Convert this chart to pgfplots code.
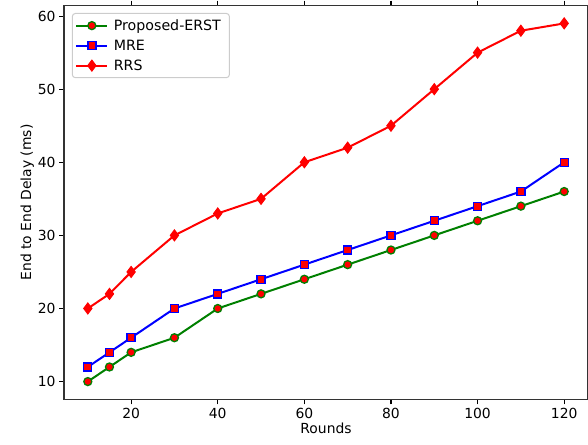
\documentclass[border=0pt]{standalone}
\usepackage{pgfplots}
\pgfplotsset{compat=1.18}
\usepackage{fontspec}
\setmainfont{DejaVu Sans}
\definecolor{mgreen}{RGB}{0,128,0}
\begin{document}
\begin{tikzpicture}[font=\fontsize{13.9}{16}\selectfont]
\useasboundingbox (-64pt,-44.5pt) rectangle (524pt,399.5pt);
\begin{axis}[
  at={(0,0)}, anchor=south west,
  scale only axis, width=524pt, height=394pt,
  xmin=4.5, xmax=125.5, ymin=7.55, ymax=61.45,
  xtick={20,40,...,120}, ytick={10,20,...,60},
  tick align=outside, major tick length=4.9pt,
  tick style={black, line width=1.1pt},
  axis line style={line width=1.1pt, black!80},
  /pgf/number format/assume math mode=true,
  xlabel={Rounds}, ylabel={End to End Delay (ms)},
  xlabel style={yshift=2pt},
  ylabel style={yshift=-3pt},
  legend cell align=left,
  legend style={at={(0.015,0.981)}, anchor=north west, draw=black!20, rounded corners=3pt, line width=1pt,
    font=\fontsize{14.2}{16}\selectfont, inner xsep=3pt, inner ysep=4pt, row sep=4pt,
    nodes={inner xsep=5.5pt, inner ysep=2pt}},
  legend image code/.code={\draw[#1, mark repeat=2, mark phase=2] plot coordinates {(0pt,0pt)(15.5pt,0pt)(31pt,0pt)};},
]
\addplot[mgreen, line width=2pt, mark=*, mark size=4pt, mark options={fill=red, draw=mgreen, line width=1.3pt}]
  coordinates {(10,10)(15,12)(20,14)(30,16)(40,20)(50,22)(60,24)(70,26)(80,28)(90,30)(100,32)(110,34)(120,36)};
\addlegendentry{Proposed-ERST}
\addplot[blue, line width=2pt, mark=square*, mark size=4pt, mark options={fill=red, draw=blue, line width=1.3pt}]
  coordinates {(10,12)(15,14)(20,16)(30,20)(40,22)(50,24)(60,26)(70,28)(80,30)(90,32)(100,34)(110,36)(120,40)};
\addlegendentry{MRE}
\addplot[red, line width=2pt, mark=diamond*, mark size=5.5pt, mark options={fill=red, draw=red, line width=1pt}]
  coordinates {(10,20)(15,22)(20,25)(30,30)(40,33)(50,35)(60,40)(70,42)(80,45)(90,50)(100,55)(110,58)(120,59)};
\addlegendentry{RRS}
\end{axis}
\end{tikzpicture}
\end{document}
